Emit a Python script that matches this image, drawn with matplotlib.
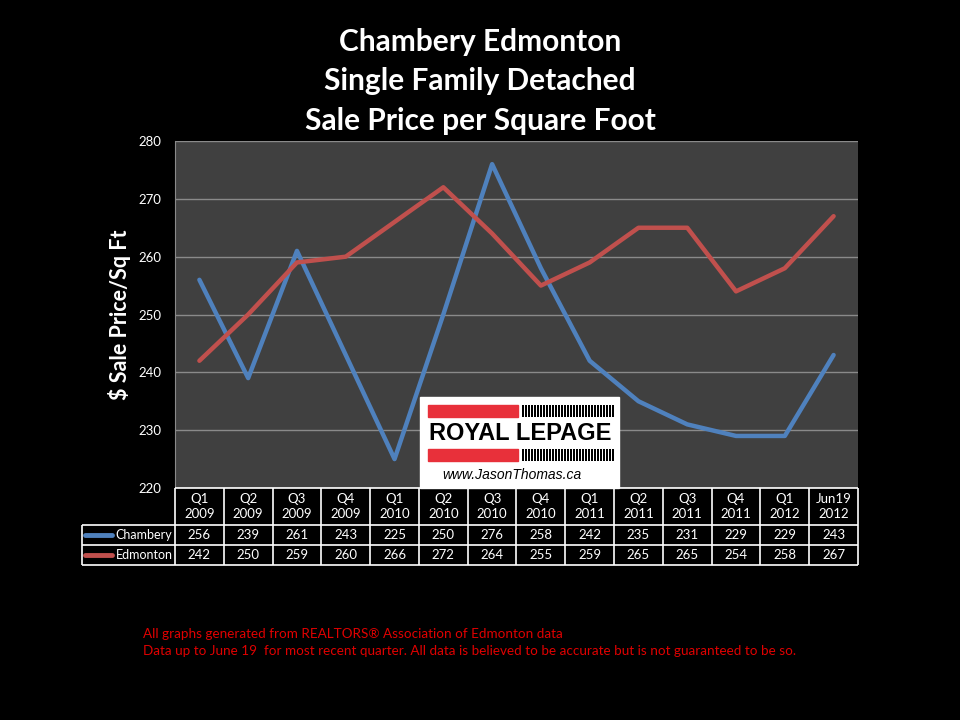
import matplotlib
matplotlib.use("Agg")
import matplotlib.pyplot as plt
from matplotlib.patches import Rectangle

# ---------------------------------------------------------------------------
# Data
# ---------------------------------------------------------------------------
QUARTERS  = ["Q1", "Q2", "Q3", "Q4", "Q1", "Q2", "Q3", "Q4",
             "Q1", "Q2", "Q3", "Q4", "Q1", "Jun19"]
YEARS     = ["2009", "2009", "2009", "2009", "2010", "2010", "2010", "2010",
             "2011", "2011", "2011", "2011", "2012", "2012"]
CHAMBERY  = [256, 239, 261, 243, 225, 250, 276, 258, 242, 235, 231, 229, 229, 243]
EDMONTON  = [242, 250, 259, 260, 266, 272, 264, 255, 259, 265, 265, 254, 258, 267]
Y_TICKS   = [220, 230, 240, 250, 260, 270, 280]

SERIES = [("Chambery", CHAMBERY, "#4f81bd"), ("Edmonton", EDMONTON, "#c0504d")]

FONT = "Lato"
W, H = 960, 720


def fx(px):
    return px / W


def fy(py):
    return 1 - py / H


fig = plt.figure(figsize=(9.6, 7.2), dpi=100, facecolor="black")

# ── Title ──────────────────────────────────────────────────────────
for text, ypx in [("Chambery Edmonton", 42), ("Single Family Detached", 81),
                  ("Sale Price per Square Foot", 121)]:
    fig.text(0.5, fy(ypx), text, color="white", fontsize=21.5, fontweight="bold",
             family=FONT, ha="center", va="center")

# ── Main plot ──────────────────────────────────────────────────────
left, right, top, bottom = 175, 858, 141, 488
ax = fig.add_axes([fx(left), fy(bottom), fx(right - left), (bottom - top) / H])
ax.set_facecolor("#404040")
n = len(CHAMBERY)
x = list(range(n))
for name, vals, col in SERIES:
    ax.plot(x, vals, color=col, lw=3.2, solid_capstyle="round", zorder=3)

ax.set_xlim(-0.5, n - 0.5)
ax.set_ylim(Y_TICKS[0], Y_TICKS[-1])
ax.set_yticks(Y_TICKS)
ax.set_xticks([])
ax.grid(axis="y", color="#8a8a8a", lw=1)
ax.set_axisbelow(True)
ax.tick_params(axis="y", length=0, pad=10, colors="white", labelsize=9.5)
for lab in ax.get_yticklabels():
    lab.set_family(FONT)
for s in ("top", "right", "bottom"):
    ax.spines[s].set_visible(False)
ax.spines["left"].set_color("#8a8a8a")
ax.set_ylabel("$ Sale Price/Sq Ft", color="white", fontsize=15.5,
              fontweight="bold", family=FONT, labelpad=5)

# ── Data table ─────────────────────────────────────────────────────
t_top, t_mid1, t_mid2, t_bot = 488, 525, 545, 565
tab = fig.add_axes([fx(left), fy(t_bot), fx(right - left), (t_bot - t_top) / H])
tab.set_xlim(-0.5, n - 0.5)
tab.set_ylim(t_bot, t_top)
tab.axis("off")
tab.patch.set_alpha(0)

col_w = (right - left) / n
label_left = -0.5 - (left - 82) / col_w
lk = dict(color="white", lw=1.2, clip_on=False)
tab.hlines(t_top, -0.5, n - 0.5, **lk)
for yy in (t_mid1, t_mid2, t_bot):
    tab.hlines(yy, label_left, n - 0.5, **lk)
for i in range(n + 1):
    tab.vlines(i - 0.5, t_top, t_bot, **lk)
tab.vlines(label_left, t_mid1, t_bot, **lk)

tk = dict(color="white", fontsize=9.5, family=FONT, ha="center", va="center",
          clip_on=False)
for i in range(n):
    tab.text(i, (t_top + t_mid1) / 2, f"{QUARTERS[i]}\n{YEARS[i]}",
             linespacing=1.3, **tk)
    tab.text(i, (t_mid1 + t_mid2) / 2, str(CHAMBERY[i]), **tk)
    tab.text(i, (t_mid2 + t_bot) / 2, str(EDMONTON[i]), **tk)

for (name, vals, col), (y0, y1) in zip(SERIES, [(t_mid1, t_mid2), (t_mid2, t_bot)]):
    yc = (y0 + y1) / 2
    tab.plot([label_left + 0.07, label_left + 0.62], [yc, yc], color=col, lw=3.5,
             solid_capstyle="round", clip_on=False)
    tab.text(-0.55, yc, name, color="white", fontsize=9, family=FONT,
             ha="right", va="center", clip_on=False)

# ── Logo ───────────────────────────────────────────────────────────
lg_l, lg_t, lg_r, lg_b = 420, 397, 619, 488
fig.patches.append(Rectangle((fx(lg_l), fy(lg_b)), fx(lg_r - lg_l), (lg_b - lg_t) / H,
                             transform=fig.transFigure, color="white", zorder=5))
for y0, y1 in [(405, 417), (449, 461)]:
    fig.patches.append(Rectangle((fx(428), fy(y1)), fx(518 - 428), (y1 - y0) / H,
                                 transform=fig.transFigure, color="#e8303a", zorder=6))
    for xs in range(522, 613, 3):
        fig.patches.append(Rectangle((fx(xs), fy(y1)), fx(1.5), (y1 - y0) / H,
                                     transform=fig.transFigure, color="black",
                                     lw=0, zorder=6))
fig.text(fx(520), fy(434), "ROYAL LEPAGE", color="black", fontsize=17,
         fontweight="bold", family="Liberation Sans", ha="center", va="center",
         zorder=7)
fig.text(fx(512), fy(475), "www.JasonThomas.ca", color="black", fontsize=10,
         style="italic", family="Liberation Sans", ha="center", va="center",
         zorder=7)

# ── Footer ─────────────────────────────────────────────────────────
fk = dict(color="#e00000", fontsize=9.7, family=FONT, ha="left", va="center")
fig.text(fx(143), fy(634), "All graphs generated from REALTORS® Association of Edmonton data", **fk)
fig.text(fx(143), fy(651), "Data up to June 19  for most recent quarter. All data is believed "
         "to be accurate but is not guaranteed to be so.", **fk)

fig.savefig("out.png", dpi=100, facecolor="black")
